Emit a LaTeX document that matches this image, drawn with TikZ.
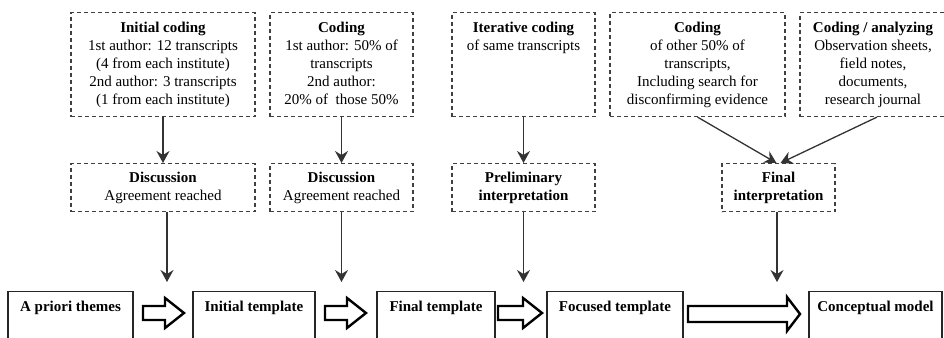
\documentclass[tikz,border=0pt]{standalone}
\usepackage{fontspec}
\setmainfont{Liberation Serif}
\usetikzlibrary{arrows.meta}

\begin{document}
\begin{tikzpicture}[x=1pt, y=-1pt,
  font=\fontsize{15}{18}\selectfont,
  dashbox/.style={rectangle, draw=black!75, line width=1.1pt, dash pattern=on 4pt off 3pt, inner sep=0pt, anchor=north},
  solidbox/.style={rectangle, draw=black!85, line width=1.2pt, inner sep=0pt, anchor=north},
  boxtext/.style={rectangle, draw=none, align=center, inner sep=0pt, below},
  flow/.style={-{Stealth[length=12pt, width=13pt, inset=4pt]}, black!80, line width=1.3pt},
  blockarrow/.style={draw=black, line width=2.4pt, fill=white, line join=miter}]
\coordinate (TopLeft) at (0,0);
\coordinate (BottomRight) at (944,337);
\useasboundingbox (TopLeft) rectangle (BottomRight);
\clip (TopLeft) rectangle (BottomRight);

%%Top row: coding steps
\node[dashbox, minimum width=184pt, minimum height=104pt] (initCoding) at (163,12) {};
\node[boxtext] (initCodingTxt) at ([yshift=-10pt]initCoding.north) {\textbf{Initial coding}\\1st author: 12 transcripts\\(4 from each institute)\\2nd author: 3 transcripts\\(1 from each institute)};

\node[dashbox, minimum width=143pt, minimum height=104pt] (halfCoding) at (341.5,12) {};
\node[boxtext] (halfCodingTxt) at ([yshift=-10pt]halfCoding.north) {\textbf{Coding}\\1st author: 50\% of\\transcripts\\2nd author:\\20\% of\ \ those 50\%};

\node[dashbox, minimum width=143pt, minimum height=104pt] (iterCoding) at (523.5,12) {};
\node[boxtext] (iterCodingTxt) at ([yshift=-10pt]iterCoding.north) {\textbf{Iterative coding}\\of same transcripts};

\node[dashbox, minimum width=175pt, minimum height=104pt] (otherCoding) at (697.5,12) {};
\node[boxtext] (otherCodingTxt) at ([yshift=-10pt]otherCoding.north) {\textbf{Coding}\\of other 50\% of\\transcripts,\\Including search for\\disconfirming evidence};

\node[dashbox, minimum width=146pt, minimum height=104pt] (analyzing) at (873,12) {};
\node[boxtext] (analyzingTxt) at ([yshift=-10pt]analyzing.north) {\textbf{Coding / analyzing}\\Observation sheets,\\field notes,\\documents,\\research journal};

%%Middle row: discussion and interpretation
\node[dashbox, align=center, minimum width=184pt, minimum height=48pt] (discussA) at (163,163) {\textbf{Discussion}\\Agreement reached};
\node[dashbox, align=center, minimum width=143pt, minimum height=48pt] (discussB) at (341.5,163) {\textbf{Discussion}\\Agreement reached};
\node[dashbox, align=center, minimum width=143pt, minimum height=48pt] (prelimInterp) at (523.5,163) {\textbf{Preliminary}\\\textbf{interpretation}};
\node[dashbox, align=center, minimum width=113pt, minimum height=48pt] (finalInterp) at (778.5,163) {\textbf{Final}\\\textbf{interpretation}};

%%Bottom row: templates
\node[solidbox, minimum width=125pt, minimum height=60pt] (apriori) at (70.5,291) {};
\node[boxtext] (aprioriTxt) at ([yshift=-9.5pt]apriori.north) {\textbf{A priori themes}};
\node[solidbox, minimum width=122pt, minimum height=60pt] (initTemplate) at (254,291) {};
\node[boxtext] (initTemplateTxt) at ([yshift=-9.5pt]initTemplate.north) {\textbf{Initial template}};
\node[solidbox, minimum width=118pt, minimum height=60pt] (finalTemplate) at (436,291) {};
\node[boxtext] (finalTemplateTxt) at ([yshift=-9.5pt]finalTemplate.north) {\textbf{Final template}};
\node[solidbox, minimum width=136pt, minimum height=60pt] (focusTemplate) at (615,291) {};
\node[boxtext] (focusTemplateTxt) at ([yshift=-9.5pt]focusTemplate.north) {\textbf{Focused template}};
\node[solidbox, minimum width=133pt, minimum height=60pt] (conceptModel) at (875.5,291) {};
\node[boxtext] (conceptModelTxt) at ([yshift=-9.5pt]conceptModel.north) {\textbf{Conceptual model}};

%%Block arrows between templates
\foreach \a/\b in {143/184, 325/366, 498/542}
  \draw[blockarrow] (\a,306) -- (\b-19,306) -- (\b-19,298) -- (\b,313) -- (\b-19,328) -- (\b-19,320) -- (\a,320) -- cycle;
\draw[blockarrow] (688,306) -- (787,306) -- (787,297) -- (800,314) -- (787,331) -- (787,322) -- (688,322) -- cycle;

%%Arrows down
\coordinate (dropA) at (167,282);
\coordinate (dropB) at (341.5,282);
\coordinate (dropC) at (523.5,282);
\coordinate (dropD) at (777,282);
\draw[flow] (initCoding.south) -- (discussA.north);
\draw[flow] (halfCoding.south) -- (discussB.north);
\draw[flow] (iterCoding.south) -- (prelimInterp.north);
\draw[flow] (otherCoding.south) -- ([xshift=-2pt]finalInterp.north);
\draw[flow] ([xshift=4pt]analyzing.south) -- ([xshift=2pt]finalInterp.north);
\draw[flow] (discussA.south -| dropA) -- (dropA);
\draw[flow] (discussB.south -| dropB) -- (dropB);
\draw[flow] (prelimInterp.south -| dropC) -- (dropC);
\draw[flow] (finalInterp.south -| dropD) -- (dropD);

\end{tikzpicture}
\end{document}
